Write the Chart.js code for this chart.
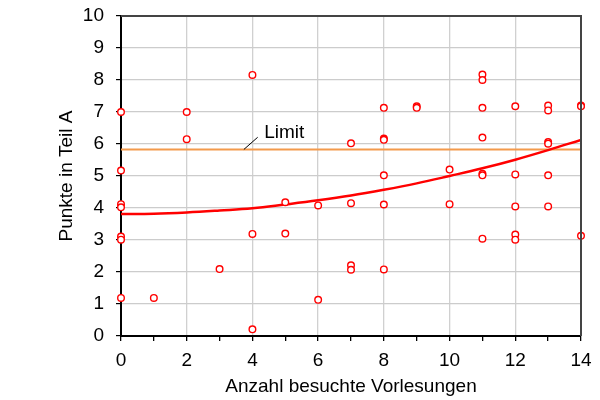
<!DOCTYPE html>
<html>
<head>
<meta charset="utf-8">
<script src="https://cdn.jsdelivr.net/npm/chart.js@4.4.0/dist/chart.umd.min.js"></script>
<style>
  html, body { margin: 0; padding: 0; background: #fff; }
  #wrap { width: 600px; height: 400px; }
</style>
</head>
<body>
<div id="wrap"><canvas id="chart" width="600" height="400"></canvas></div>
<script>
// lectures attended vs points in part A
var lecturesX = [0, 0, 0, 0, 0, 0, 0, 1, 2, 2, 3, 4, 4, 4, 5, 5, 6, 6, 7, 7, 7, 7,
  8, 8, 8, 8, 8, 8, 9, 9, 10, 10, 11, 11, 11, 11, 11, 11, 11,
  12, 12, 12, 12, 12, 13, 13, 13, 13, 13, 13, 14, 14, 14];
var pointsY = [7.0, 5.17, 4.12, 4.02, 3.11, 3.01, 1.19, 1.19, 7.0, 6.15, 2.09, 8.16, 3.19, 0.21, 4.18, 3.2, 4.08, 1.13, 6.02, 4.15, 2.21, 2.07,
  7.13, 6.17, 6.13, 5.02, 4.11, 2.08, 7.18, 7.13, 5.2, 4.12, 8.17, 8.0, 7.13, 6.2, 5.07, 5.02, 3.04,
  7.18, 5.05, 4.05, 3.17, 3.01, 7.2, 7.05, 6.06, 6.01, 5.02, 4.05, 7.2, 7.18, 3.13];

// fitted trend
var trendX = [0, 1, 2, 3, 4, 5, 6, 7, 8, 9, 10, 11, 12, 13, 14];
var trendY = [3.81, 3.82, 3.86, 3.92, 3.99, 4.11, 4.24, 4.39, 4.57, 4.77, 5.0, 5.24, 5.51, 5.81, 6.13];

var limitValue = 5.83;
var limitX = [0, 14];

var xTicks = [0, 2, 4, 6, 8, 10, 12, 14];
var yTicks = [0, 1, 2, 3, 4, 5, 6, 7, 8, 9, 10];

var FONT = "'Liberation Sans', Arial, sans-serif";

function toXY(xs, ys) {
  return xs.map(function (x, i) { return { x: x, y: ys[i] }; });
}

// frame on top/right + "Limit" label with leader line
var extras = {
  id: 'extras',
  afterDatasetsDraw: function (chart) {
    var ctx = chart.ctx;
    var a = chart.chartArea;
    var sx = chart.scales.x, sy = chart.scales.y;
    ctx.save();
    ctx.strokeStyle = '#444';
    ctx.lineWidth = 2;
    ctx.beginPath();
    ctx.moveTo(a.left, a.top);
    ctx.lineTo(a.right, a.top);
    ctx.lineTo(a.right, a.bottom);
    ctx.stroke();

    ctx.strokeStyle = '#000';
    ctx.lineWidth = 1;
    ctx.beginPath();
    ctx.moveTo(sx.getPixelForValue(3.74), sy.getPixelForValue(limitValue));
    ctx.lineTo(sx.getPixelForValue(4.16), sy.getPixelForValue(6.21));
    ctx.stroke();

    ctx.fillStyle = '#000';
    ctx.font = '19px ' + FONT;
    ctx.textAlign = 'left';
    ctx.textBaseline = 'alphabetic';
    ctx.fillText('Limit', sx.getPixelForValue(4.36), sy.getPixelForValue(6.2));
    ctx.restore();
  }
};

new Chart(document.getElementById('chart'), {
  type: 'scatter',
  data: {
    datasets: [
      {
        label: 'Punkte',
        data: toXY(lecturesX, pointsY),
        pointStyle: 'circle',
        pointRadius: 3.3,
        pointHoverRadius: 3.3,
        pointBorderWidth: 1.4,
        borderColor: '#ff0000',
        backgroundColor: '#ffffff',
        clip: false
      },
      {
        label: 'Trend',
        type: 'line',
        data: toXY(trendX, trendY),
        borderColor: '#ff0000',
        borderWidth: 2.5,
        pointRadius: 0,
        tension: 0.4,
        fill: false
      },
      {
        label: 'Limit',
        type: 'line',
        data: toXY(limitX, [limitValue, limitValue]),
        borderColor: '#f39a4c',
        borderWidth: 2,
        pointRadius: 0,
        fill: false
      }
    ]
  },
  options: {
    responsive: false,
    animation: false,
    layout: { padding: { top: 16, right: 19, left: 0, bottom: 0 } },
    plugins: {
      legend: { display: false },
      tooltip: { enabled: false }
    },
    scales: {
      x: {
        type: 'linear',
        min: 0,
        max: 14,
        afterFit: function (s) { s.height = 64; s.paddingLeft = 0; s.paddingRight = 0; },
        afterBuildTicks: function (s) {
          s.ticks = trendX.map(function (v) { return { value: v }; });
        },
        ticks: {
          color: '#000',
          font: { family: FONT, size: 19 },
          padding: 8,
          maxRotation: 0,
          autoSkip: false,
          callback: function (v) { return xTicks.indexOf(v) >= 0 ? String(v) : ''; }
        },
        grid: {
          color: function (c) {
            return xTicks.indexOf(c.tick.value) >= 0 ? '#d0d0d0' : 'rgba(0,0,0,0)';
          },
          lineWidth: 1.3,
          tickColor: '#000',
          tickLength: 5
        },
        border: { color: '#000', width: 2 },
        title: {
          display: true,
          text: 'Anzahl besuchte Vorlesungen',
          color: '#000',
          font: { family: FONT, size: 19 },
          padding: { top: 0, bottom: 2 }
        }
      },
      y: {
        type: 'linear',
        min: 0,
        max: 10,
        afterFit: function (s) { s.width = 121; s.paddingTop = 0; s.paddingBottom = 0; },
        afterBuildTicks: function (s) {
          s.ticks = yTicks.map(function (v) { return { value: v }; });
        },
        ticks: {
          color: '#000',
          font: { family: FONT, size: 19 },
          padding: 12
        },
        grid: {
          color: '#cccccc',
          lineWidth: 1.2,
          tickColor: '#000',
          tickLength: 5
        },
        border: { color: '#000', width: 2 },
        title: {
          display: true,
          text: 'Punkte in Teil A',
          color: '#000',
          font: { family: FONT, size: 19 },
          padding: { top: 55, bottom: 0 }
        }
      }
    }
  },
  plugins: [extras]
});
</script>
</body>
</html>
